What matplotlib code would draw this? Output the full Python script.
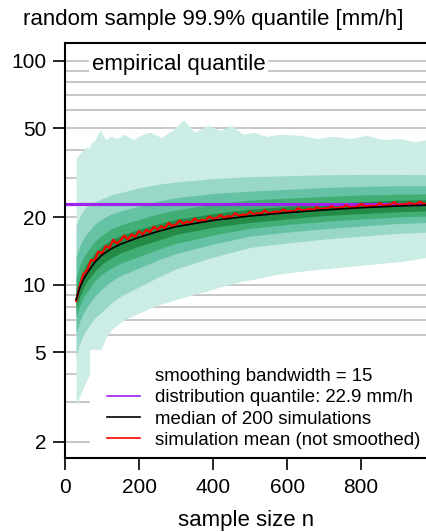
import matplotlib
matplotlib.use("Agg")
import matplotlib.pyplot as plt
from matplotlib.lines import Line2D
from matplotlib.patches import Rectangle

plt.rcParams["font.family"] = ["Liberation Sans", "DejaVu Sans"]

# sample sizes for the inner quantile bands
n_band = [30, 40, 50, 60, 80, 100, 125, 150, 200, 250, 300, 400, 500, 600, 700, 800, 900, 980]
median = [8.6, 9.7, 10.6, 11.3, 12.6, 13.6, 14.5, 15.2, 16.3, 17.3, 18.2, 19.4, 20.3, 21.0, 21.6, 22.1, 22.5, 22.7]
up2 = [18.4, 20.3, 21.6, 22.5, 23.5, 24.2, 25.2, 25.8, 27.1, 28.1, 28.8, 29.8, 30.4, 30.7, 31.0, 31.1, 31.1, 31.0]
up3 = [13.3, 14.9, 16.1, 17.0, 18.6, 19.7, 20.7, 21.4, 22.5, 23.6, 24.5, 25.6, 26.2, 26.7, 27.2, 27.5, 27.7, 27.7]
up4 = [10.8, 12.2, 13.3, 14.1, 15.6, 16.7, 17.8, 18.5, 19.6, 20.7, 21.6, 22.9, 23.9, 24.4, 24.8, 25.2, 25.4, 25.5]
up5 = [9.5, 10.7, 11.7, 12.5, 13.9, 14.9, 15.9, 16.6, 17.7, 18.7, 19.6, 20.8, 21.8, 22.4, 23.0, 23.5, 23.9, 24.0]
lo5 = [7.9, 8.9, 9.7, 10.4, 11.5, 12.4, 13.2, 13.9, 14.9, 15.8, 16.8, 18.1, 19.0, 19.7, 20.4, 20.8, 21.2, 21.4]
lo4 = [7.2, 8.1, 8.8, 9.3, 10.4, 11.2, 11.9, 12.5, 13.4, 14.4, 15.3, 16.7, 17.9, 18.6, 19.2, 19.7, 20.1, 20.3]
lo3 = [6.1, 6.9, 7.5, 8.0, 8.9, 9.6, 10.4, 11.0, 11.9, 12.9, 13.8, 15.2, 16.5, 17.2, 17.8, 18.3, 18.8, 19.0]
lo2 = [4.8, 5.5, 6.0, 6.4, 7.1, 7.6, 8.3, 8.9, 9.8, 10.8, 11.8, 13.3, 14.7, 15.4, 16.0, 16.5, 17.0, 17.2]

# outer band (min / max of simulations)
n_outer = [30, 40, 50, 60, 65, 70, 80, 95, 110, 125, 140, 160, 185, 210, 230, 260, 290, 320, 350,
           385, 420, 450, 480, 510, 545, 580, 635, 680, 725, 770, 815, 860, 905, 945, 980]
up1 = [36.5, 38.5, 40, 41.5, 40.5, 43, 44, 49, 44.5, 46, 45, 47, 44.5, 47, 48, 45.5, 49, 54.5, 48,
       51.5, 49, 51.5, 47, 48, 46, 47, 46.5, 45, 46, 45, 46.5, 44.5, 45, 43.5, 44.5]
lo1 = [2.9, 3.2, 3.5, 3.8, 3.95, 4.1, 4.4, 5.0, 5.8, 6.3, 6.6, 7.0, 7.3, 7.6, 7.9, 8.2, 8.5, 8.8, 9.1,
       9.4, 9.8, 10.1, 10.4, 10.6, 10.9, 11.2, 11.5, 11.7, 11.9, 12.1, 12.3, 12.5, 12.7, 13.0, 13.3]

# simulation mean (not smoothed)
n_mean = list(range(30, 981, 10))
sim_mean = [8.5, 9.9, 11.2, 11.6, 12.9, 12.8, 14.1, 13.8, 14.9, 14.6,
            15.9, 15.3, 15.8, 16.6, 15.9, 16.8, 16.4, 17.4, 16.8, 17.6,
            17.2, 18.2, 17.6, 18.3, 17.9, 18.9, 18.3, 18.6, 19.4, 18.7,
            19.2, 18.9, 19.8, 19.2, 19.5, 19.4, 20.2, 19.7, 19.9, 20.5,
            19.9, 20.3, 20.1, 20.9, 20.3, 20.6, 20.5, 21.2, 20.6, 20.9,
            20.8, 21.5, 20.9, 21.0, 21.3, 21.1, 21.7, 21.2, 21.4, 21.3,
            22.0, 21.5, 21.6, 21.9, 21.6, 22.2, 21.8, 21.9, 22.0, 22.5,
            21.9, 22.1, 22.2, 22.7, 22.2, 22.3, 22.4, 23.0, 22.4, 22.5,
            22.6, 22.4, 23.2, 22.6, 22.7, 22.8, 23.4, 22.7, 22.9, 22.8,
            23.3, 22.9, 23.0, 23.5, 22.9, 23.1]

dist_q = 22.9
grid_levels = [2, 3, 4, 5, 6, 7, 8, 9, 10, 20, 30, 40, 50, 60, 70, 80, 90, 100]
band_colors = ["#ccece6", "#99d8c9", "#66c2a4", "#41ae76", "#238b45"]

fig = plt.figure(figsize=(4.27, 5.32), dpi=100)
ax = fig.add_axes([65 / 427, 1 - 458 / 532, 362 / 427, 415 / 532])
ax.set_yscale("log")
ax.set_xlim(0, 978)
ax.set_ylim(1.69, 120)

for g in grid_levels:
    ax.axhline(g, color="#bebebe", lw=1.2, zorder=0)

ax.fill_between(n_outer, lo1, up1, color=band_colors[0], lw=0, zorder=1)
pairs = [(lo2, up2), (lo3, up3), (lo4, up4), (lo5, up5)]
for (lo, up), c in zip(pairs, band_colors[1:]):
    ax.fill_between(n_band, lo, up, color=c, lw=0, zorder=1)

ax.axhline(dist_q, color="#a020f0", lw=2.3, zorder=2)
ax.plot(n_mean, sim_mean, color="red", lw=1.6, zorder=3)
ax.plot(n_band, median, color="black", lw=1.2, zorder=4)

ax.set_xticks([0, 200, 400, 600, 800])
ax.set_yticks([2, 5, 10, 20, 50, 100])
ax.set_yticklabels(["2", "5", "10", "20", "50", "100"])
ax.minorticks_off()
ax.tick_params(axis="both", labelsize=15, length=8.5, width=1.2, direction="out")
ax.tick_params(axis="x", pad=6)
ax.tick_params(axis="y", pad=5)
for s in ["left", "bottom", "top"]:
    ax.spines[s].set_linewidth(1.5)
ax.spines["right"].set_visible(False)

ax.text(0.075, 0.947, "empirical quantile", transform=ax.transAxes, fontsize=16, va="center",
        ha="left", zorder=5, bbox=dict(facecolor="white", edgecolor="none", pad=2))

# white legend box, covers the lower right of the plot
ax.add_patch(Rectangle((25 / 362, 0), 1.0, 108 / 415, transform=ax.transAxes,
                       facecolor="white", edgecolor="none", zorder=2.3))

handles = [Line2D([], [], color="none"),
           Line2D([], [], color="#a020f0", lw=1.2),
           Line2D([], [], color="black", lw=1.2),
           Line2D([], [], color="red", lw=1.2)]
labels = ["smoothing bandwidth = 15", "distribution quantile: 22.9 mm/h",
          "median of 200 simulations", "simulation mean (not smoothed)"]
leg = ax.legend(handles, labels, loc="lower left", bbox_to_anchor=(42 / 362, 0.022), borderaxespad=0,
                fontsize=13.4, frameon=False, borderpad=0, handlelength=1.8, handletextpad=0.8,
                labelspacing=0.23)
leg.set_zorder(2.4)

fig.text(0.5, 1 - 19 / 532, "random sample 99.9% quantile [mm/h]", ha="center", va="center", fontsize=16)
ax.set_xlabel("sample size n", fontsize=16, labelpad=9)

fig.savefig("out.png", dpi=100)
